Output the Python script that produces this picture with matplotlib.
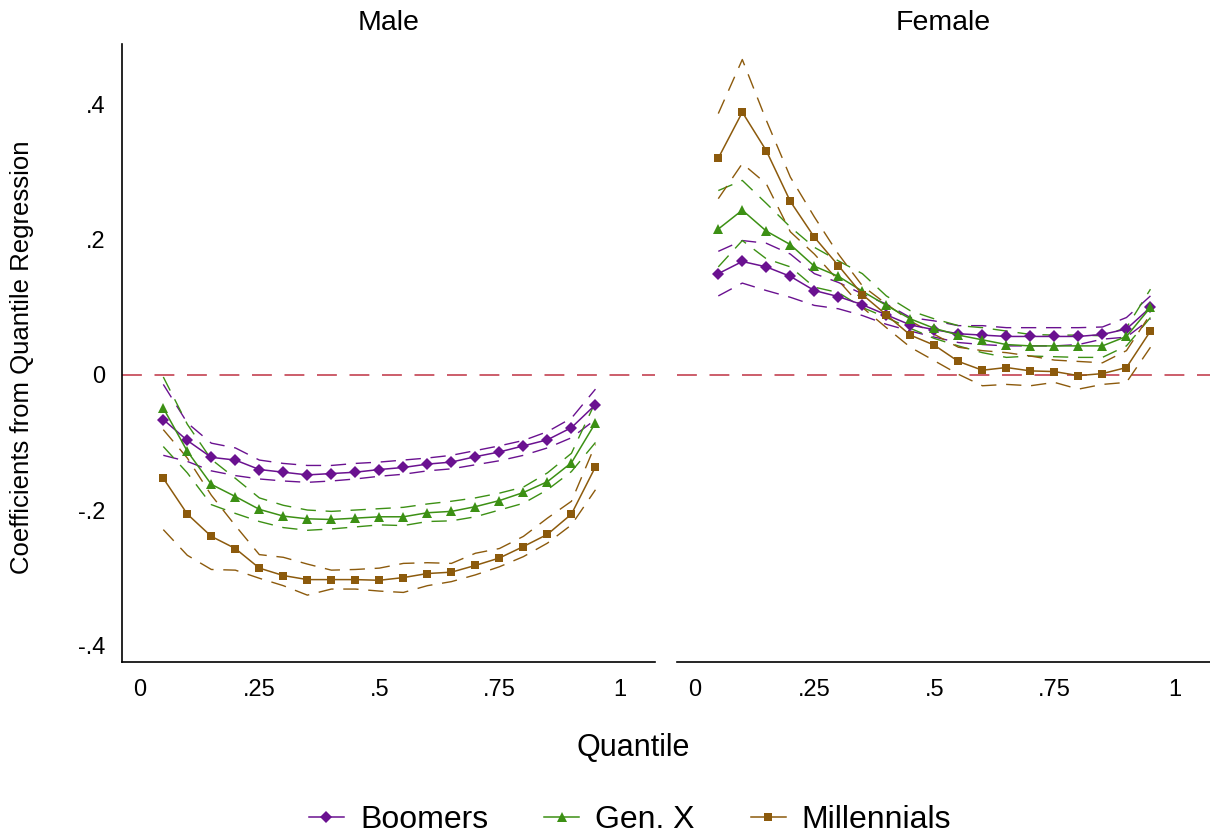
import matplotlib
matplotlib.use("Agg")
import matplotlib.pyplot as plt
from matplotlib.lines import Line2D

plt.rcParams['font.family'] = ['Liberation Sans', 'DejaVu Sans']

quantiles = [0.05, 0.10, 0.15, 0.20, 0.25, 0.30, 0.35, 0.40, 0.45, 0.50,
             0.55, 0.60, 0.65, 0.70, 0.75, 0.80, 0.85, 0.90, 0.95]

# ---- Male ----
male_boomers = [-0.066, -0.097, -0.122, -0.126, -0.140, -0.144, -0.148, -0.146, -0.144, -0.140,
                -0.137, -0.132, -0.129, -0.121, -0.114, -0.105, -0.096, -0.078, -0.044]
male_boomers_hi = [-0.014, -0.071, -0.101, -0.108, -0.126, -0.131, -0.134, -0.134, -0.131, -0.129,
                   -0.126, -0.123, -0.119, -0.112, -0.105, -0.097, -0.084, -0.064, -0.021]
male_boomers_lo = [-0.119, -0.128, -0.142, -0.149, -0.154, -0.157, -0.159, -0.157, -0.154, -0.150,
                   -0.147, -0.142, -0.139, -0.133, -0.127, -0.119, -0.108, -0.093, -0.066]

male_genx = [-0.049, -0.113, -0.162, -0.180, -0.199, -0.209, -0.213, -0.214, -0.212, -0.210,
             -0.210, -0.204, -0.202, -0.195, -0.186, -0.174, -0.158, -0.130, -0.071]
male_genx_hi = [-0.003, -0.073, -0.125, -0.153, -0.182, -0.193, -0.200, -0.202, -0.200, -0.198,
                -0.196, -0.191, -0.187, -0.182, -0.175, -0.166, -0.145, -0.116, -0.040]
male_genx_lo = [-0.106, -0.145, -0.192, -0.205, -0.217, -0.226, -0.230, -0.228, -0.225, -0.222,
                -0.223, -0.217, -0.216, -0.210, -0.200, -0.190, -0.170, -0.143, -0.100]

male_mill = [-0.153, -0.206, -0.239, -0.257, -0.286, -0.297, -0.303, -0.303, -0.303, -0.304,
             -0.300, -0.294, -0.292, -0.282, -0.271, -0.254, -0.236, -0.206, -0.136]
male_mill_hi = [-0.081, -0.123, -0.178, -0.223, -0.266, -0.270, -0.280, -0.289, -0.288, -0.286,
                -0.279, -0.278, -0.279, -0.264, -0.257, -0.239, -0.212, -0.187, -0.103]
male_mill_lo = [-0.229, -0.267, -0.288, -0.289, -0.301, -0.312, -0.326, -0.317, -0.317, -0.320,
                -0.322, -0.312, -0.306, -0.296, -0.284, -0.269, -0.249, -0.222, -0.170]

# ---- Female ----
fem_boomers = [0.150, 0.168, 0.160, 0.146, 0.125, 0.116, 0.104, 0.089, 0.074, 0.067,
               0.061, 0.059, 0.057, 0.057, 0.057, 0.057, 0.060, 0.068, 0.100]
fem_boomers_hi = [0.183, 0.199, 0.195, 0.179, 0.150, 0.137, 0.120, 0.105, 0.085, 0.080,
                  0.073, 0.073, 0.070, 0.070, 0.070, 0.070, 0.071, 0.085, 0.117]
fem_boomers_lo = [0.117, 0.136, 0.125, 0.115, 0.103, 0.098, 0.088, 0.075, 0.065, 0.056,
                  0.048, 0.045, 0.043, 0.043, 0.043, 0.045, 0.053, 0.056, 0.083]

fem_genx = [0.216, 0.244, 0.213, 0.193, 0.161, 0.146, 0.124, 0.103, 0.083, 0.069,
            0.059, 0.052, 0.045, 0.043, 0.043, 0.043, 0.043, 0.057, 0.100]
fem_genx_hi = [0.273, 0.288, 0.254, 0.219, 0.189, 0.169, 0.150, 0.117, 0.095, 0.083,
               0.073, 0.070, 0.065, 0.060, 0.059, 0.059, 0.058, 0.070, 0.127]
fem_genx_lo = [0.160, 0.199, 0.172, 0.160, 0.130, 0.122, 0.100, 0.085, 0.069, 0.054,
               0.043, 0.033, 0.026, 0.028, 0.027, 0.026, 0.026, 0.043, 0.085]

fem_mill = [0.321, 0.389, 0.332, 0.257, 0.204, 0.162, 0.119, 0.089, 0.059, 0.044,
            0.020, 0.007, 0.011, 0.006, 0.005, -0.001, 0.002, 0.011, 0.065]
fem_mill_hi = [0.387, 0.467, 0.377, 0.293, 0.234, 0.179, 0.132, 0.105, 0.080, 0.060,
               0.041, 0.036, 0.033, 0.028, 0.022, 0.020, 0.018, 0.036, 0.090]
fem_mill_lo = [0.261, 0.313, 0.283, 0.212, 0.179, 0.140, 0.100, 0.070, 0.041, 0.021,
               0.001, -0.016, -0.014, -0.016, -0.011, -0.021, -0.014, -0.011, 0.041]

cohorts = ['Boomers', 'Gen. X', 'Millennials']
colors = ['#6a1190', '#3c9014', '#8c5a0c']
markers = ['D', '^', 's']
msizes = [6.0, 7.0, 5.8]

panels = [
    ('Male', [(male_boomers, male_boomers_lo, male_boomers_hi),
              (male_genx, male_genx_lo, male_genx_hi),
              (male_mill, male_mill_lo, male_mill_hi)]),
    ('Female', [(fem_boomers, fem_boomers_lo, fem_boomers_hi),
                (fem_genx, fem_genx_lo, fem_genx_hi),
                (fem_mill, fem_mill_lo, fem_mill_hi)]),
]

W, H = 1210, 838
fig = plt.figure(figsize=(W / 100, H / 100), dpi=100)
ax_w = 533 / W
ax_b = (H - 662) / H
ax_h = (662 - 44) / H
lefts = [122 / W, 677 / W]

xlim = (-0.036, 1.074)
ylim = (-0.425, 0.49)

for i, (title, series) in enumerate(panels):
    ax = fig.add_axes([lefts[i], ax_b, ax_w, ax_h])
    ax.axhline(0, color='#c8505f', lw=1.3, dashes=(11, 7), zorder=1)
    for (pt, lo, hi), c, m, ms in zip(series, colors, markers, msizes):
        ax.plot(quantiles, hi, color=c, lw=1.0, dashes=(11, 7), zorder=2)
        ax.plot(quantiles, lo, color=c, lw=1.0, dashes=(11, 7), zorder=2)
        ax.plot(quantiles, pt, color=c, lw=1.1, marker=m, ms=ms,
                markeredgewidth=0, zorder=3)
    ax.set_xlim(*xlim)
    ax.set_ylim(*ylim)
    ax.set_xticks([0, 0.25, 0.5, 0.75, 1])
    ax.set_xticklabels(['0', '.25', '.5', '.75', '1'])
    ax.tick_params(axis='x', length=0, pad=12, labelsize=17)
    for s in ['top', 'right']:
        ax.spines[s].set_visible(False)
    ax.spines['bottom'].set_linewidth(1.2)
    if i == 0:
        ax.set_yticks([-0.4, -0.2, 0, 0.2, 0.4])
        ax.set_yticklabels(['-.4', '-.2', '0', '.2', '.4'])
        ax.tick_params(axis='y', length=0, pad=12, labelsize=17)
        ax.spines['left'].set_linewidth(1.2)
    else:
        ax.set_yticks([])
        ax.spines['left'].set_visible(False)
    ax.set_title(title, fontsize=20.5, pad=10)

fig.text(22 / W, 1 - 357 / H, 'Coefficients from Quantile Regression',
         rotation=90, ha='center', va='center', fontsize=18.5)
fig.text(633 / W, 1 - 748 / H, 'Quantile', ha='center', va='center', fontsize=22)

handles = [Line2D([0], [0], color=c, lw=1.1, marker=m, ms=ms, markeredgewidth=0)
           for c, m, ms in zip(colors, markers, msizes)]
fig.legend(handles, cohorts, loc='center', bbox_to_anchor=(630 / W, 1 - 820 / H),
           ncol=3, frameon=False, fontsize=23, handlelength=1.1, handletextpad=0.5,
           columnspacing=1.75)

fig.savefig('out.png', dpi=100)
